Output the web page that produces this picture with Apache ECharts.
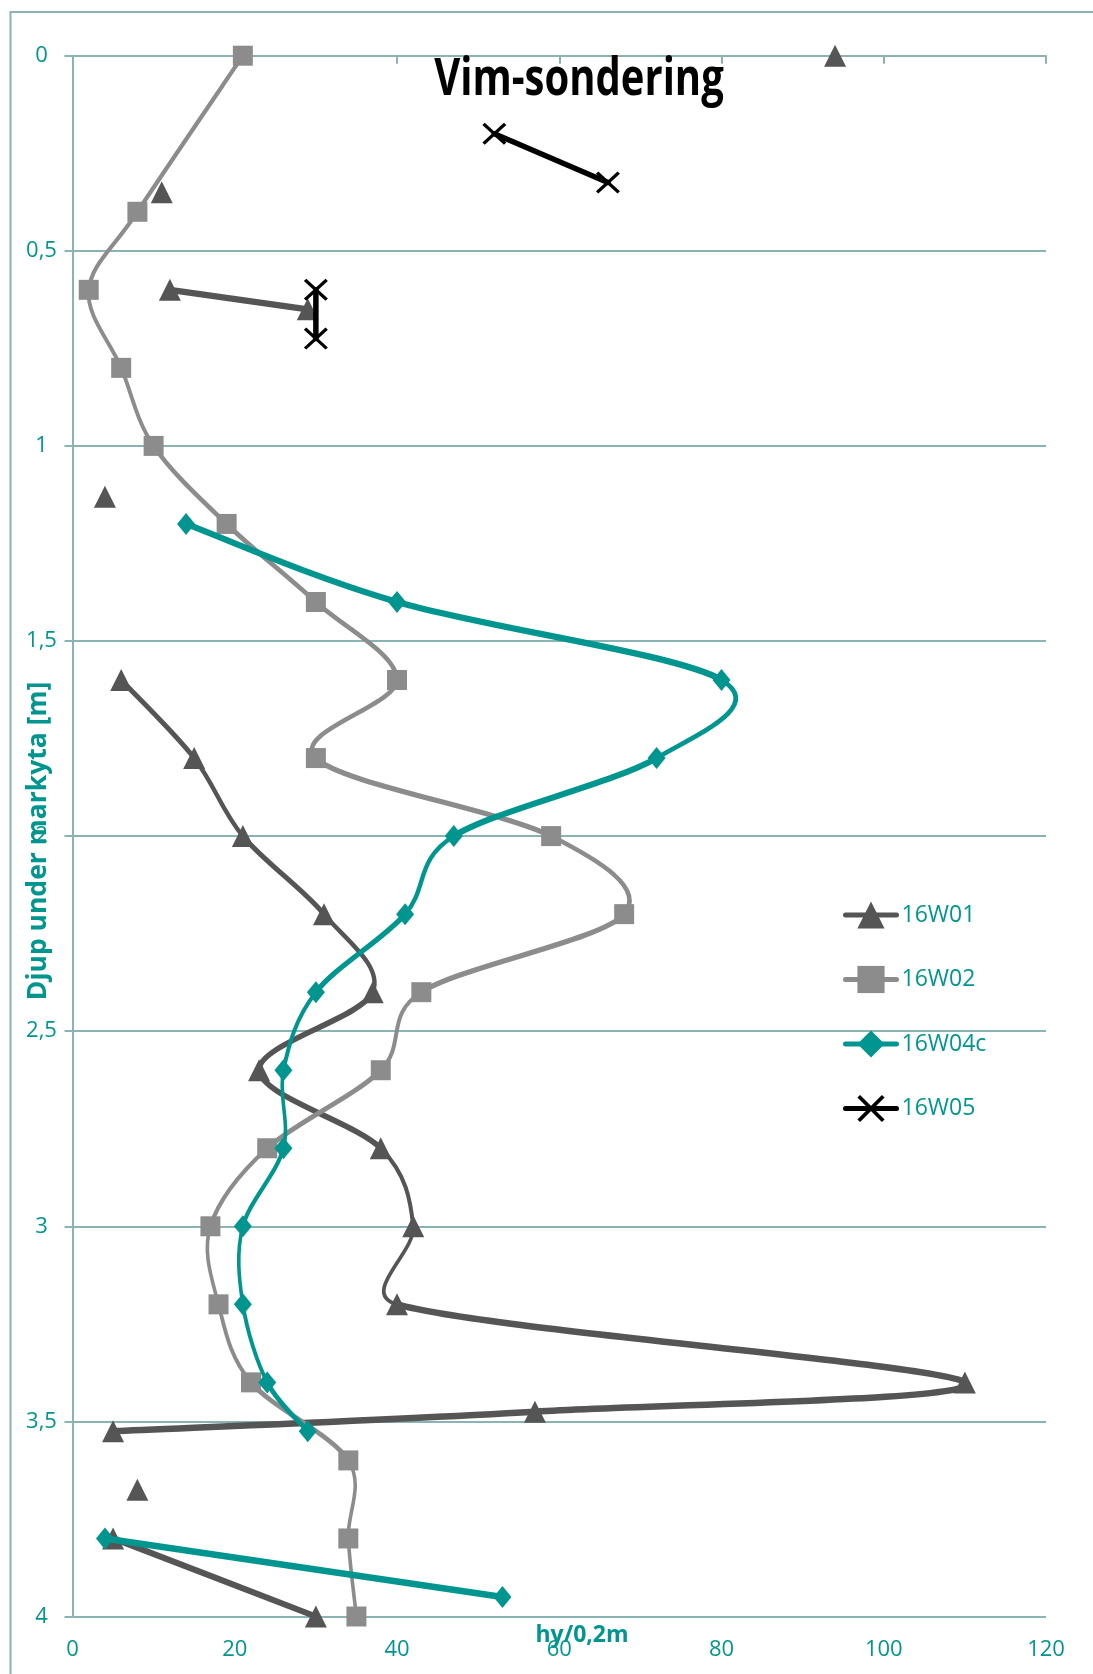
<!DOCTYPE html>
<html>
<head>
<meta charset="utf-8">
<script src="https://cdn.jsdelivr.net/npm/echarts@6/dist/echarts.min.js"></script>
<style>
html,body{margin:0;padding:0;background:#fff;}
#c{width:1093px;height:1674px;}
</style>
</head>
<body>
<div id="c"></div>
<script>
// Data: [hy/0,2m, depth m]; null = break in line
const seriesNames = ['16W01', '16W02', '16W04c', '16W05'];
const data16W01 = [[94, 0], null, [11, 0.35], null, [12, 0.6], [29, 0.65], null, [4, 1.13], null,
  [6, 1.6], [15, 1.8], [21, 2.0], [31, 2.2], [37, 2.4], [23, 2.6], [38, 2.8], [42, 3.0], [40, 3.2],
  [110, 3.4], [57, 3.475], [5, 3.525], null, [8, 3.675], null, [5, 3.8], [30, 4.0]];
const data16W02 = [[21, 0], [8, 0.4], [2, 0.6], [6, 0.8], [10, 1.0], [19, 1.2], [30, 1.4], [40, 1.6],
  [30, 1.8], [59, 2.0], [68, 2.2], [43, 2.4], [38, 2.6], [24, 2.8], [17, 3.0], [18, 3.2], [22, 3.4],
  [34, 3.6], [34, 3.8], [35, 4.0]];
const data16W04c = [[14, 1.2], [40, 1.4], [80, 1.6], [72, 1.8], [47, 2.0], [41, 2.2], [30, 2.4],
  [26, 2.6], [26, 2.8], [21, 3.0], [21, 3.2], [24, 3.4], [29, 3.525], null, [4, 3.8], [53, 3.95]];
const data16W05 = [[52, 0.2], [66, 0.325], null, [30, 0.6], [30, 0.725]];
const xTicks = [0, 20, 40, 60, 80, 100, 120];
const yTicks = ['0', '0,5', '1', '1,5', '2', '2,5', '3', '3,5', '4'];

const teal = '#00968f';
const grid = '#8ab4b4';
const FONT = '"Open Sans", sans-serif';
const crossPath = 'path://M0,1L1,0L10,9L9,10Z M9,0L10,1L1,10L0,9Z';

function prep(arr) { return arr.map(p => p === null ? ['-', '-'] : p); }

// control offset (b - a) * t, capped at half the segment length (Excel-like smoothing)
function ctrl(a, b, t, half) {
  let ox = (b[0] - a[0]) * t, oy = (b[1] - a[1]) * t;
  const len = Math.sqrt(ox * ox + oy * oy);
  if (len > half && len > 0) { ox *= half / len; oy *= half / len; }
  return [ox, oy];
}

// Smoothed curve pieces, drawn through the chart's own scales (api.coord)
function curveSeries(name, arr, color, wv, wh, smooth, z) {
  return {
    type: 'custom', name: name + ' (kurva)', coordinateSystem: 'cartesian2d',
    data: prep(arr), z: z, clip: false, silent: true,
    renderItem(params, api) {
      const i = params.dataIndex;
      const p1 = arr[i], p2 = arr[i + 1];
      if (!p1 || !p2) return null;
      const p0 = arr[i - 1] || p1, p3 = arr[i + 2] || p2;
      const c0 = api.coord(p0), c1 = api.coord(p1), c2 = api.coord(p2), c3 = api.coord(p3);
      const t = smooth ? 1 / 6 : 0;
      const dx = c2[0] - c1[0], dy = c2[1] - c1[1];
      const d12 = Math.sqrt(dx * dx + dy * dy);
      const o1 = ctrl(c0, c2, t, d12 / 2), o2 = ctrl(c1, c3, t, d12 / 2);
      const cos2 = (dx * dx) / ((d12 * d12) || 1);
      return {
        type: 'bezierCurve',
        shape: {
          x1: c1[0], y1: c1[1], x2: c2[0], y2: c2[1],
          cpx1: c1[0] + o1[0], cpy1: c1[1] + o1[1],
          cpx2: c2[0] - o2[0], cpy2: c2[1] - o2[1]
        },
        style: { stroke: color, fill: 'none', lineWidth: wv + (wh - wv) * cos2, lineCap: 'round' }
      };
    }
  };
}

function markSeries(name, arr, color, symbol, size, z) {
  return {
    name: name, type: 'line', data: prep(arr), smooth: false, clip: false, z: z,
    symbol: symbol, symbolSize: size, connectNulls: false, showAllSymbol: true,
    lineStyle: { color: color, width: 5, opacity: 0 }, itemStyle: { color: color }
  };
}

const chart = echarts.init(document.getElementById('c'));
chart.setOption({
  backgroundColor: '#fff',
  animation: false,
  grid: { left: 72.5, right: 47, top: 55.7, bottom: 57.5 },
  xAxis: {
    type: 'value', min: 0, max: 120, interval: 20,
    axisLine: { show: true, lineStyle: { color: grid, width: 2 } },
    axisTick: { show: true, length: 8, lineStyle: { color: grid, width: 2 } },
    axisLabel: { color: teal, fontFamily: FONT, fontSize: 22, margin: 22,
      formatter: v => xTicks.includes(v) ? String(v) : '' },
    splitLine: { show: false }
  },
  yAxis: {
    type: 'value', min: 0, max: 4, interval: 0.5, inverse: true,
    axisLine: { show: true, lineStyle: { color: grid, width: 2 } },
    axisTick: { show: true, length: 8, lineStyle: { color: grid, width: 2 } },
    axisLabel: { color: teal, fontFamily: FONT, fontSize: 22, margin: 31, align: 'center',
      formatter: v => yTicks[Math.round(v / 0.5)] },
    splitLine: { show: true, lineStyle: { color: grid, width: 2 } }
  },
  legend: {
    orient: 'vertical', left: 838, top: 893,
    itemWidth: 51, itemHeight: 34, itemGap: 30.5,
    lineStyle: { width: 5, opacity: 1, cap: 'round' },
    textStyle: { color: teal, fontFamily: FONT, fontSize: 23, lineHeight: 34 },
    data: seriesNames
  },
  graphic: [
    { type: 'rect', silent: true, shape: { x: 10.5, y: 12, width: 1300, height: 1900 },
      style: { fill: 'none', stroke: grid, lineWidth: 2 } },
    { type: 'text', x: 579, y: 80, scaleY: 1.3, z: 10,
      style: { text: 'Vim-sondering', font: 'bold 40px ' + FONT, fill: '#000',
        textAlign: 'center', textVerticalAlign: 'middle' } },
    { type: 'text', x: 582, y: 1635, z: 10,
      style: { text: 'hy/0,2m', font: 'bold 23px ' + FONT, fill: teal,
        textAlign: 'center', textVerticalAlign: 'middle' } },
    { type: 'text', x: 38, y: 841, rotation: Math.PI / 2, z: 10,
      style: { text: 'Djup under markyta [m]', font: 'bold 26.5px ' + FONT, fill: teal,
        textAlign: 'center', textVerticalAlign: 'middle' } }
  ],
  series: [
    curveSeries('16W01', data16W01, '#555555', 3.6, 6.5, true, 1),
    markSeries('16W01', data16W01, '#555555', 'triangle', 22, 2),
    curveSeries('16W02', data16W02, '#8c8c8c', 3.6, 5.5, true, 3),
    markSeries('16W02', data16W02, '#8c8c8c', 'rect', 20, 4),
    curveSeries('16W04c', data16W04c, teal, 3.6, 6.5, true, 5),
    markSeries('16W04c', data16W04c, teal, 'diamond', [18, 22], 6),
    curveSeries('16W05', data16W05, '#000', 5.5, 5.5, false, 7),
    markSeries('16W05', data16W05, '#000', crossPath, [24, 22], 8)
  ]
});
</script>
</body>
</html>
